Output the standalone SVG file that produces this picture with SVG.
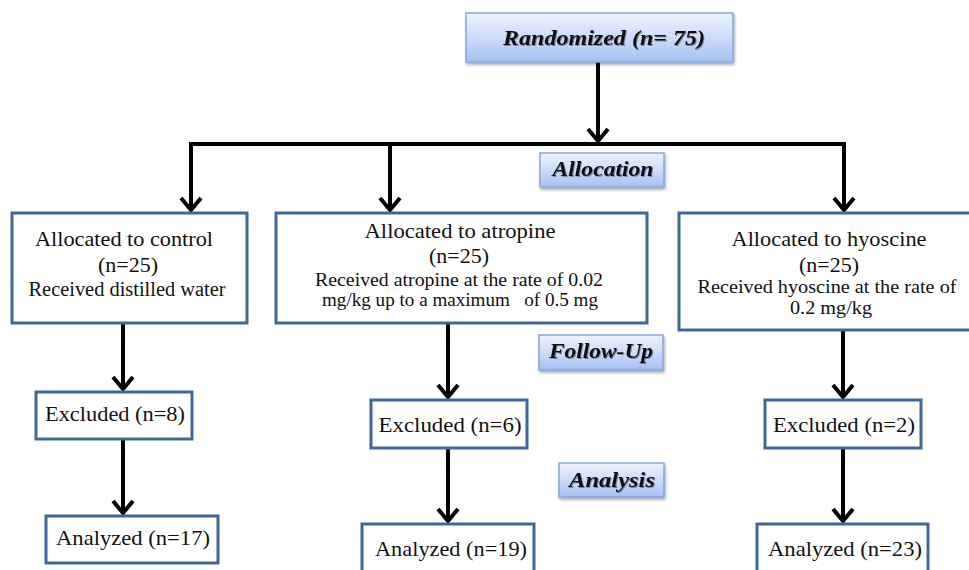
<svg xmlns="http://www.w3.org/2000/svg" width="969" height="570" viewBox="0 0 969 570">
  <defs>
    <linearGradient id="blueGrad" x1="0" y1="0" x2="0" y2="1">
      <stop offset="0" stop-color="#eef3fd"/>
      <stop offset="0.5" stop-color="#cddcfa"/>
      <stop offset="1" stop-color="#a3c0f5"/>
    </linearGradient>
    <filter id="boxShadow" x="-10%" y="-20%" width="125%" height="150%">
      <feDropShadow dx="1" dy="2" stdDeviation="1.5" flood-color="#000" flood-opacity="0.35"/>
    </filter>
    <filter id="textShadow" x="-5%" y="-20%" width="110%" height="150%">
      <feDropShadow dx="1" dy="1" stdDeviation="0.6" flood-color="#000" flood-opacity="0.35"/>
    </filter>
    <marker id="chevron" viewBox="-16 -13 19 26" refX="0" refY="0" markerWidth="19" markerHeight="26" markerUnits="userSpaceOnUse" orient="auto">
      <path d="M-12,-10 L0,0 L-12,10" fill="none" stroke="#000" stroke-width="4" stroke-linejoin="miter"/>
    </marker>
    <style>
      .node { fill: #ffffff; stroke: #41669a; stroke-width: 3; }
      .label { fill: url(#blueGrad); stroke: #86a8dc; stroke-width: 1.5; filter: url(#boxShadow); }
      .t { font-family: 'Liberation Serif', 'DejaVu Serif', serif; fill: #111; text-anchor: middle; }
      .lt { font-family: 'Liberation Serif', 'DejaVu Serif', serif; font-weight: bold; font-style: italic; fill: #111; text-anchor: middle; font-size: 22px; filter: url(#textShadow); }
      .big { font-size: 22px; }
      .small { font-size: 19px; }
      .conn { stroke: #000; stroke-width: 4; fill: none; }
      .arrow { marker-end: url(#chevron); }
    </style>
  </defs>

  <g id="connectors">
    <line class="conn arrow" x1="598" y1="62" x2="598" y2="141"/>
    <line class="conn" x1="189" y1="144" x2="846" y2="144"/>
    <line class="conn arrow" x1="191" y1="144" x2="191" y2="210"/>
    <line class="conn arrow" x1="390" y1="144" x2="390" y2="210"/>
    <line class="conn arrow" x1="844" y1="144" x2="844" y2="210"/>
    <line class="conn arrow" x1="123" y1="323" x2="123" y2="389"/>
    <line class="conn arrow" x1="123" y1="439" x2="123" y2="513"/>
    <line class="conn arrow" x1="448" y1="323" x2="448" y2="397"/>
    <line class="conn arrow" x1="448" y1="448" x2="448" y2="521"/>
    <line class="conn arrow" x1="843" y1="330" x2="843" y2="397"/>
    <line class="conn arrow" x1="843" y1="448" x2="843" y2="521"/>
  </g>

  <g id="randomized">
    <rect class="label" x="466" y="13" width="267" height="49"/>
    <text class="lt" x="604" y="45" font-family="Liberation Serif" textLength="202" lengthAdjust="spacingAndGlyphs">Randomized (n= 75)</text>
  </g>

  <g id="allocation-label">
    <rect class="label" x="540" y="153" width="124" height="34"/>
    <text class="lt" x="603" y="176" textLength="101" lengthAdjust="spacingAndGlyphs">Allocation</text>
  </g>

  <g id="followup-label">
    <rect class="label" x="539" y="335" width="124" height="35"/>
    <text class="lt" x="601" y="358" textLength="104" lengthAdjust="spacingAndGlyphs">Follow-Up</text>
  </g>

  <g id="analysis-label">
    <rect class="label" x="559" y="463" width="105" height="34"/>
    <text class="lt" x="612" y="487" textLength="86" lengthAdjust="spacingAndGlyphs">Analysis</text>
  </g>

  <g id="control">
    <rect class="node" x="12" y="213" width="235" height="110"/>
    <text class="t big" x="124" y="246" textLength="178" lengthAdjust="spacingAndGlyphs">Allocated to control</text>
    <text class="t big" x="128" y="272">(n=25)</text>
    <text class="t" x="127" y="296" font-size="20" textLength="197" lengthAdjust="spacingAndGlyphs">Received distilled water</text>
  </g>

  <g id="atropine">
    <rect class="node" x="276" y="213" width="371" height="110"/>
    <text class="t big" x="460" y="238" textLength="191" lengthAdjust="spacingAndGlyphs">Allocated to atropine</text>
    <text class="t big" x="459" y="263">(n=25)</text>
    <text class="t small" x="459" y="286" textLength="288" lengthAdjust="spacingAndGlyphs">Received atropine at the rate of 0.02</text>
    <text class="t small" x="460" y="306" textLength="276" lengthAdjust="spacingAndGlyphs" xml:space="preserve">mg/kg up to a maximum   of 0.5 mg</text>
  </g>

  <g id="hyoscine">
    <rect class="node" x="679" y="213" width="295" height="117"/>
    <text class="t big" x="829" y="246" textLength="195" lengthAdjust="spacingAndGlyphs">Allocated to hyoscine</text>
    <text class="t big" x="829" y="272">(n=25)</text>
    <text class="t small" x="827" y="293" textLength="259" lengthAdjust="spacingAndGlyphs">Received hyoscine at the rate of</text>
    <text class="t small" x="831" y="314" textLength="82" lengthAdjust="spacingAndGlyphs">0.2 mg/kg</text>
  </g>

  <g id="excluded-control">
    <rect class="node" x="36" y="392" width="156" height="47"/>
    <text class="t big" x="115" y="421" textLength="140" lengthAdjust="spacingAndGlyphs">Excluded (n=8)</text>
  </g>

  <g id="analyzed-control">
    <rect class="node" x="46" y="516" width="172" height="47"/>
    <text class="t big" x="133" y="545" textLength="154" lengthAdjust="spacingAndGlyphs">Analyzed (n=17)</text>
  </g>

  <g id="excluded-atropine">
    <rect class="node" x="371" y="400" width="156" height="48"/>
    <text class="t big" x="450" y="432" textLength="143" lengthAdjust="spacingAndGlyphs">Excluded (n=6)</text>
  </g>

  <g id="analyzed-atropine">
    <rect class="node" x="362" y="524" width="172" height="52"/>
    <text class="t big" x="451" y="556" textLength="152" lengthAdjust="spacingAndGlyphs">Analyzed (n=19)</text>
  </g>

  <g id="excluded-hyoscine">
    <rect class="node" x="765" y="400" width="156" height="48"/>
    <text class="t big" x="844" y="432" textLength="142" lengthAdjust="spacingAndGlyphs">Excluded (n=2)</text>
  </g>

  <g id="analyzed-hyoscine">
    <rect class="node" x="757" y="524" width="171" height="52"/>
    <text class="t big" x="845" y="556" textLength="154" lengthAdjust="spacingAndGlyphs">Analyzed (n=23)</text>
  </g>
</svg>
